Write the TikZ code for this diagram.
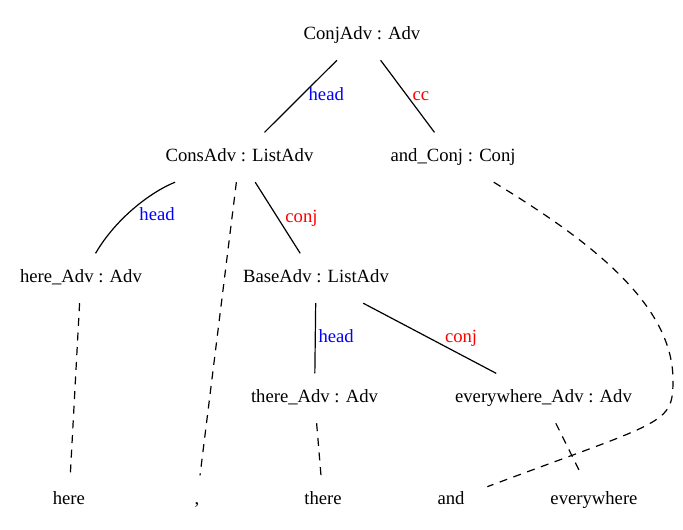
\documentclass[tikz,border=0pt]{standalone}
\usepackage{fontspec}
\setmainfont{Liberation Serif}
\usetikzlibrary{positioning}
\tikzstyle{tnode}=[rectangle, inner sep=2pt, minimum width=54pt, minimum height=37pt, text height=10pt, text depth=3pt, font=\fontsize{14}{16}\selectfont]
\tikzstyle{pline}=[-, line width=0.9pt]
\tikzstyle{dline}=[-, line width=0.9pt, dash pattern=on 6pt off 5pt]
\tikzstyle{hlabel}=[inner sep=0pt, anchor=west, text height=10pt, text depth=3pt, font=\fontsize{14}{16}\selectfont, text=blue]
\tikzstyle{clabel}=[hlabel, text=red]
\begin{document}
\begin{tikzpicture}[x=0.75pt, y=-0.75pt, on grid]
\useasboundingbox (0,0) rectangle (683,530);
\node (CONJ) [tnode] at (362,35.3) {ConjAdv : Adv};
\node (CONS) [tnode, below left=91.5pt and 91.9pt of CONJ] {ConsAdv : ListAdv};
 \draw[pline] (CONJ) -- node[hlabel, xshift=5.5pt] {head} (CONS);
\node (ANDC) [tnode, below right=91.5pt and 68.3pt of CONJ] {and\_Conj : Conj};
 \draw[pline] (CONJ) -- node[clabel, xshift=3.4pt] {cc} (ANDC);
\node (HERE) [tnode, below left=90.75pt and 118.9pt of CONS] {here\_Adv : Adv};
 \draw[pline] (CONS) .. controls (155,190) and (118,215) .. node[hlabel, xshift=2pt, yshift=-7.5pt] {head} (HERE);
\node (BASE) [tnode, below right=90.75pt and 57.4pt of CONS] {BaseAdv : ListAdv};
 \draw[pline] (CONS) -- node[clabel, xshift=5.3pt] {conj} (BASE);
\node (THERE) [tnode, below left=90pt and 1.1pt of BASE] {there\_Adv : Adv};
 \draw[pline] (BASE) -- node[hlabel, xshift=2pt] {head} (THERE);
\node (EVERY) [tnode, below right=90pt and 170.6pt of BASE] {everywhere\_Adv : Adv};
 \draw[pline] (BASE) -- node[clabel, xshift=11pt] {conj} (EVERY);
\node (WHERE) [tnode, below left=166.5pt and 9pt of HERE] {here};
 \draw[dline] (HERE) -- (WHERE);
\node (WCOMMA) [tnode, below left=257.25pt and 31.9pt of CONS] {,};
 \draw[dline] (CONS) -- (WCOMMA);
\node (WTHERE) [tnode, below right=76.5pt and 6.4pt of THERE] {there};
 \draw[dline] (THERE) -- (WTHERE);
\node (WAND) [tnode, below left=257.25pt and 1.5pt of ANDC] {and};
\coordinate (ANDBEND) at (673,380);
 \draw[dline] (ANDC) .. controls (580,235) and (673,300) .. (ANDBEND) .. controls (673,425) and (665,420) .. (WAND);
\node (WEVERY) [tnode, below right=76.5pt and 37.9pt of EVERY] {everywhere};
 \draw[dline] (EVERY) -- (WEVERY);
\end{tikzpicture}
\end{document}
